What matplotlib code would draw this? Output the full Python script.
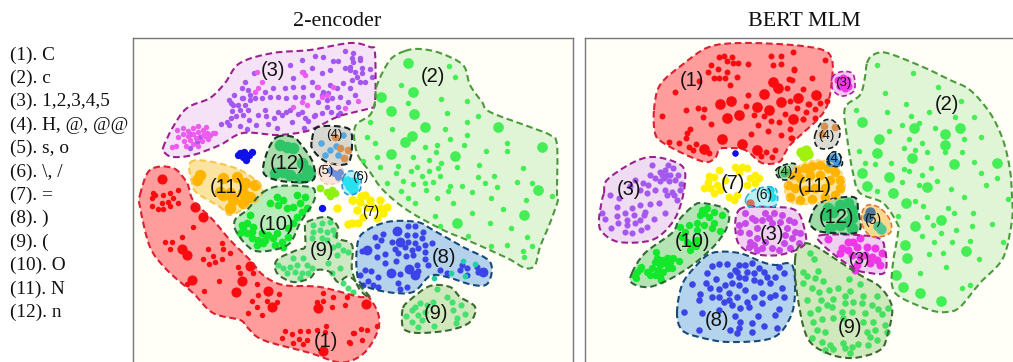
import matplotlib
matplotlib.use('Agg')
import matplotlib.pyplot as plt
import numpy as np
from matplotlib.path import Path
from matplotlib.patches import PathPatch

W, H = 1013, 362

legend_labels = ['(1). C', '(2). c', '(3). 1,2,3,4,5', '(4). H, @, @@', '(5). s, o', '(6). \\, /',
                 '(7). =', '(8). )', '(9). (', '(10). O', '(11). N', '(12). n']

# ---- 2-encoder outlines
L_out_3 = [(163,148),(173,127),(187,108),(210,98),(225,83),(240,63),(273,53),(310,50),(350,43),(370,47),(375,53),(375,102),(370,108),(355,112),(337,117),(317,127),(303,132),(277,135),(243,133),(220,145),(193,155),(173,157),(165,153)]
L_out_2 = [(405,51),(420,49),(440,53),(463,65),(470,85),(482,102),(490,112),(530,127),(550,135),(557,145),(557,193),(558,200),(550,223),(540,247),(535,265),(525,268),(507,258),(467,240),(443,230),(407,210),(383,190),(370,172),(357,153),(355,127),(370,115),(375,102),(377,85),(390,60)]
L_out_1 = [(140,195),(150,170),(173,168),(187,183),(193,200),(213,220),(230,240),(250,260),(263,275),(283,285),(320,287),(360,297),(367,295),(378,313),(378,330),(367,350),(353,360),(337,362),(310,353),(263,340),(247,327),(240,320),(213,313),(193,293),(167,270),(150,247),(140,207)]
L_out_11 = [(190,163),(207,161),(240,170),(262,187),(258,200),(247,207),(230,215),(220,207),(197,193),(192,183)]
L_out_12 = [(277,137),(293,137),(303,147),(313,163),(313,180),(290,182),(270,178),(263,170),(268,150)]
L_out_10 = [(262,193),(280,186),(310,187),(315,193),(313,203),(300,223),(290,243),(273,250),(253,250),(237,233),(235,220),(247,210)]
L_out_9a = [(307,222),(327,217),(338,227),(337,238),(352,245),(352,270),(360,290),(370,297),(350,277),(338,282),(330,272),(317,270),(310,278),(293,282),(277,273),(277,260),(297,250),(305,247),(305,230)]
L_out_9b = [(403,308),(410,300),(430,286),(450,287),(460,297),(475,307),(470,322),(450,330),(420,333),(405,330),(402,322)]
L_out_8 = [(357,247),(363,233),(387,222),(417,222),(433,230),(463,247),(490,262),(488,283),(473,285),(447,277),(430,276),(413,292),(387,292),(363,285),(357,273)]
L_out_4 = [(312,140),(318,127),(347,128),(352,140),(348,163),(327,162),(313,150)]
L_out_5 = [(318,170),(328,163),(340,166),(344,175),(337,183),(324,183)]
L_out_6 = [(343,178),(350,171),(360,175),(360,190),(350,195),(343,190)]

# ---- 2-encoder points
L_c2 = [(449,66),(455,77),(401,85),(408,103),(441,99),(467,101),(447,113),(478,116),(370,122),(467,122),(392,129),(445,129),(367,137),(467,135),(450,139),(375,143),(425,147),(437,145),(464,145),(507,143),(486,151),(507,151),(436,152),(413,157),(377,157),(429,160),(363,161),(441,163),(479,165),(380,167),(398,166),(417,167),(457,167),(411,171),(429,171),(438,168),(523,168),(396,173),(422,176),(440,176),(494,176),(478,177),(403,181),(387,183),(413,184),(425,183),(433,182),(485,183),(517,182),(532,183),(450,186),(462,186),(497,187),(426,190),(401,191),(448,191),(472,192),(552,196),(437,198),(408,198),(491,198),(415,203),(453,203),(526,200),(472,213),(503,209),(435,216),(440,226),(490,223),(511,228),(468,236),(527,237),(491,246),(507,245),(532,246),(523,251),(524,257)]
L_c2_big = [(408,63),(413,92),(381,97),(391,111),(414,114),(498,127),(425,127),(412,136),(405,142),(542,147),(391,154),(455,156),(538,190),(524,215),(457,223)]
L_m3 = [(177,130),(183,128),(188,131),(193,128),(198,126),(203,130),(206,127),(207,133),(210,135),(213,133),(178,137),(183,134),(188,136),(193,134),(198,132),(203,135),(208,139),(184,141),(190,140),(196,138),(202,141),(176,146),(186,146),(193,144),(198,146),(172,147),(205,136),(215,133),(262,82),(258,88),(255,92),(257,72),(302,72),(305,75),(302,102),(293,107),(307,105),(318,87),(327,95),(333,87),(322,97),(358,101),(345,108)]
L_p3 = [(190,148),(197,142),(191,134),(200,137),(221,124),(227,122),(231,118),(236,116),(243,115),(229,125),(240,126),(247,129),(256,125),(249,120),(258,115),(266,116),(268,124),(274,118),(277,128),(282,115),(286,112),(292,122),(298,114),(308,121),(304,128),(302,112),(314,116),(322,113),(331,112),(338,115),(229,100),(233,105),(232,111),(240,110),(245,105),(250,100),(242,98),(245,82),(242,88),(248,90),(254,73),(231,103),(234,95),(238,105),(243,98),(250,95),(255,98),(262,98),(270,97),(278,97),(286,98),(273,88),(265,92),(285,88),(293,78),(290,65),(302,60),(315,56),(323,57),(333,61),(338,61),(345,51),(353,53),(352,58),(360,58),(345,68),(350,67),(330,70),(322,73),(312,68),(303,72),(293,87),(303,87),(312,82),(317,87),(323,92),(330,85),(337,88),(343,83),(350,88),(357,77),(340,97),(348,102),(338,107),(327,107),(318,102),(312,95),(303,97),(295,97),(290,110),(278,112),(265,110),(248,110),(305,118),(315,115),(340,113),(327,100),(322,95),(328,93),(332,98),(353,62),(360,60),(355,72),(362,68),(370,69),(372,77),(360,82),(365,82),(352,80),(355,95),(350,70),(362,73)]
L_c1 = [(155,195),(152,198),(163,195),(170,193),(173,198),(168,202),(162,203),(178,203),(152,206),(158,209),(163,209),(170,206),(193,227),(182,237),(165,242),(172,242),(170,249),(222,243),(208,249),(223,249),(230,253),(213,256),(203,259),(222,259),(215,262),(209,264),(238,267),(253,273),(240,273),(187,284),(219,281),(257,284),(204,291),(279,294),(258,295),(323,293),(333,297),(347,297),(252,301),(267,301),(277,302),(257,307),(317,302),(323,301),(332,307),(345,305),(248,313),(262,315),(326,326),(325,332),(285,331),(292,334),(300,331),(308,331),(317,330),(282,338),(293,343),(299,339),(307,340),(303,344),(353,333),(349,342),(361,329),(367,330),(377,326),(354,333),(362,340),(350,343),(178,190),(153,193)]
L_c1_big = [(195,207),(203,217),(182,249),(187,255),(250,266),(192,280),(242,281),(236,292),(268,291),(272,307),(318,308),(323,351),(366,304),(162,179)]
L_n11 = [(200,175),(197,180),(223,178),(237,177),(245,183),(255,185),(230,193),(243,193),(223,195),(233,198),(233,200),(230,208),(243,203),(220,192),(250,197)]
L_n12 = [(287,147),(280,145),(293,148),(275,173),(283,172),(290,175),(307,170),(305,177),(300,178),(310,173),(302,163)]
L_o10 = [(277,197),(283,200),(270,203),(297,195),(305,197),(300,203),(307,208),(302,212),(287,208),(293,207),(278,205),(250,215),(242,225),(247,233),(240,233),(252,238),(258,240),(265,240),(273,238),(282,242),(288,237),(283,247),(268,235),(247,223),(253,227),(262,233),(263,243),(277,233),(293,223),(297,217),(288,228),(275,245),(257,245),(252,232),(243,228)]
L_par9 = [(313,225),(322,223),(330,222),(313,232),(320,230),(327,232),(333,230),(312,238),(322,238),(327,240),(335,235),(338,245),(343,250),(348,252),(333,247),(337,255),(328,263),(340,268),(332,273),(343,283),(348,288),(353,292),(303,258),(293,258),(297,265),(307,265),(290,267),(283,268),(287,273),(302,273),(295,272),(308,273),(278,265),(300,278),(312,268),(437,289),(412,310),(420,303),(427,305),(433,302),(447,297),(452,302),(461,305),(453,310),(465,314),(457,318),(456,323),(406,316),(412,322),(418,315),(422,320),(418,327),(434,326),(415,307),(425,312)]
L_par8 = [(408,226),(415,226),(423,232),(407,235),(415,235),(383,234),(375,237),(381,240),(392,242),(408,242),(415,243),(422,238),(432,243),(425,245),(377,246),(362,251),(395,249),(405,247),(412,250),(418,248),(425,252),(398,253),(406,256),(413,255),(385,254),(377,257),(425,259),(396,261),(385,263),(417,265),(418,271),(428,265),(365,270),(371,271),(400,274),(440,270),(447,273),(460,270),(467,268),(467,275),(477,267),(478,272),(360,275),(368,281),(363,285),(373,285),(378,277),(398,283),(378,287),(407,287),(400,289),(462,265)]
L_par8_big = [(397,231),(400,242),(367,250),(409,269),(391,273),(415,275),(483,272)]
L_teal = [(463,261),(475,264),(451,273),(465,276),(434,278)]
L_eq7 = [(365,195),(360,202),(370,200),(380,200),(387,207),(383,213),(357,210),(363,217),(377,218),(352,200),(352,223),(358,223),(380,208),(367,207),(337,208),(348,224),(353,200),(373,207),(361,196)]
L_lime = [(320,188),(327,192),(332,190),(330,196),(335,193)]
L_blue_blob = [(238,155),(243,157),(246,160),(249,155),(252,152),(244,152),(240,153),(322,208)]
L_h4_blue = [(321,143),(330,150),(336,146),(325,155),(338,155),(343,135)]
L_h4_orange = [(340,148),(344,158),(348,150),(335,137)]
L_s5 = [(334,173),(338,177),(330,170),(340,172)]
L_slash6 = [(350,186),(354,182),(347,181),(353,189)]

# ---- BERT MLM outlines
R_out_1 = [(654,110),(660,85),(682,65),(709,47),(742,43),(792,45),(823,50),(832,60),(832,80),(828,103),(820,117),(803,133),(790,145),(785,153),(779,162),(762,163),(745,150),(725,148),(719,150),(715,158),(705,162),(682,153),(662,142),(655,133)]
R_out_2 = [(867,63),(873,55),(887,53),(923,67),(950,80),(970,90),(990,113),(1003,140),(1010,170),(1012,197),(1012,220),(1003,258),(980,283),(960,307),(947,312),(930,310),(900,297),(892,285),(893,263),(898,233),(897,223),(883,203),(860,193),(853,173),(847,137),(845,108),(860,95),(865,77)]
R_out_3a = [(832,78),(840,72),(852,73),(855,83),(853,92),(842,96),(833,90)]
R_out_3b = [(604,193),(607,180),(632,163),(652,157),(675,162),(685,172),(682,200),(672,223),(652,240),(619,242),(602,232),(599,220),(602,200)]
R_out_3c = [(739,210),(769,207),(795,210),(804,227),(804,245),(779,255),(752,253),(737,240)]
R_out_3d = [(822,235),(875,237),(885,250),(885,272),(870,273),(853,268),(823,245)]
R_out_10 = [(632,273),(645,253),(672,233),(679,220),(692,207),(702,203),(727,210),(727,227),(715,245),(695,263),(672,278),(649,287),(632,283)]
R_out_8 = [(677,313),(682,285),(695,267),(712,253),(739,253),(762,262),(775,265),(792,265),(795,293),(790,318),(772,338),(729,342),(699,337),(682,330)]
R_out_9 = [(795,260),(800,245),(813,245),(837,260),(860,275),(880,287),(892,307),(888,333),(880,350),(853,358),(827,353),(807,337),(797,293)]
R_out_12 = [(810,220),(820,203),(853,197),(858,210),(858,232),(823,232),(812,227)]
R_out_5 = [(862,213),(868,205),(880,208),(890,220),(890,233),(873,237),(863,227)]
R_out_11 = [(788,178),(800,165),(818,160),(835,165),(844,178),(844,192),(832,200),(812,204),(792,203),(785,192)]
R_out_4a = [(815,135),(822,122),(832,120),(840,130),(836,145),(824,149),(816,145)]
R_out_4b = [(827,160),(833,152),(840,155),(842,165),(832,166)]
R_out_4c = [(776,170),(784,165),(795,164),(795,175),(786,180),(778,177)]
R_out_6 = [(746,198),(756,189),(775,188),(776,205),(760,207),(748,206)]

# ---- BERT MLM points
R_c1 = [(719,57),(724,56),(727,61),(732,57),(733,63),(738,63),(748,64),(718,69),(708,72),(727,72),(714,78),(719,78),(725,78),(737,77),(730,85),(711,65),(771,56),(781,56),(793,52),(773,65),(781,64),(794,69),(789,79),(787,88),(803,89),(699,81),(675,92),(748,95),(746,106),(790,101),(797,108),(809,104),(686,110),(698,108),(704,109),(662,116),(703,117),(754,115),(764,116),(785,114),(803,119),(771,121),(779,122),(758,125),(711,124),(690,129),(687,133),(790,129),(768,131),(751,134),(781,135),(791,138),(686,138),(669,142),(679,143),(689,147),(696,144),(693,150),(709,153),(766,152),(775,150),(761,156),(772,157),(825,60),(794,70),(812,78),(792,80),(808,104),(820,103),(827,101),(806,112),(815,109),(803,119),(815,118),(792,138)]
R_c1_big = [(773,82),(778,88),(764,94),(731,101),(720,104),(757,107),(781,102),(798,98),(769,110),(739,115),(727,118),(793,119),(722,139),(704,149),(742,144),(757,150),(816,95)]
R_c2 = [(877,65),(913,73),(885,93),(938,87),(906,104),(961,101),(856,110),(887,112),(929,112),(911,116),(955,117),(974,117),(919,123),(902,125),(935,128),(889,131),(981,137),(964,139),(909,139),(922,143),(904,148),(859,151),(915,150),(927,152),(945,152),(962,152),(865,163),(875,164),(891,163),(974,162),(931,168),(904,169),(909,171),(981,173),(922,175),(997,178),(937,181),(902,182),(919,185),(986,185),(951,189),(877,191),(964,197),(1008,199),(915,201),(923,206),(948,208),(954,213),(973,213),(898,216),(927,217),(933,225),(956,230),(972,226),(992,224),(941,233),(922,236),(970,241),(952,242),(934,242),(1003,242),(943,253),(929,254),(979,259),(946,267),(920,273),(962,288),(970,285)]
R_c2_big = [(862,122),(914,128),(960,128),(945,134),(879,139),(945,145),(877,153),(912,158),(954,164),(997,163),(862,173),(889,177),(867,186),(927,187),(893,193),(906,203),(941,220),(915,226),(905,245),(966,251),(907,258),(896,275),(903,287),(920,293),(941,301)]
R_p3 = [(660,172),(665,170),(670,175),(664,178),(669,181),(660,181),(673,168),(675,180),(655,178),(650,175),(648,185),(643,183),(635,180),(640,190),(630,186),(655,190),(665,190),(672,192),(680,190),(678,175),(681,184),(652,165),(668,165),(662,175),(667,175),(602,213),(605,219),(617,207),(617,216),(618,223),(611,228),(625,232),(632,233),(641,230),(627,225),(635,223),(627,220),(634,215),(640,220),(644,215),(632,208),(640,205),(625,213),(650,204),(654,219),(647,227),(665,213),(659,203),(647,193),(667,195),(677,200),(674,195),(619,198),(610,195),(645,212)]
R_m3c = [(750,242),(754,245),(749,247),(757,238),(740,232),(745,223),(755,220),(749,233),(757,228),(739,225),(745,213),(752,218),(765,213),(774,213),(782,215),(789,220),(794,222),(772,223),(780,222),(787,228),(795,232),(800,233),(792,238),(785,235),(762,220),(762,248),(772,248),(779,250),(790,248),(799,243),(765,242),(757,250),(784,243),(769,218)]
R_m3d = [(828,239),(848,242),(853,242),(860,238),(842,248),(848,250),(857,247),(867,247),(875,248),(882,253),(840,253),(872,257),(877,260),(870,263),(857,265),(855,270),(880,265),(860,257),(852,255),(865,255),(838,80),(843,83),(848,86),(843,78),(847,80),(840,86),(845,88)]
R_o10 = [(655,262),(660,265),(665,263),(658,270),(663,272),(668,268),(652,268),(670,262),(673,258),(650,275),(660,277),(667,258),(657,258),(647,272),(662,260),(655,275),(672,268),(636,278),(637,272),(641,267),(656,252),(668,258),(679,261),(640,269),(635,276),(661,280),(702,210),(700,215),(707,208),(709,217),(722,215),(714,212),(697,223),(704,225),(714,223),(689,225),(697,230),(712,228),(720,231),(680,227),(685,232),(692,245),(687,242),(697,240),(682,237),(690,250),(704,213),(696,246)]
R_par8 = [(719,264),(727,264),(712,266),(707,273),(716,279),(692,284),(706,283),(710,288),(719,289),(700,294),(699,300),(712,297),(719,297),(729,293),(729,300),(724,302),(737,272),(730,275),(739,265),(745,265),(752,263),(759,268),(764,272),(747,272),(754,273),(739,277),(745,278),(754,280),(760,282),(767,277),(775,277),(779,267),(784,273),(770,283),(782,288),(732,283),(739,285),(745,290),(754,297),(737,297),(762,303),(775,295),(784,297),(770,297),(732,305),(719,310),(702,313),(684,312),(740,308),(749,307),(779,309),(735,316),(758,316),(775,315),(740,322),(752,323),(739,328),(730,330),(699,330),(752,332),(764,326),(777,328),(737,333),(747,302),(725,285),(762,293),(735,270)]
R_par9 = [(810,253),(814,259),(803,272),(818,271),(807,276),(815,278),(803,283),(823,281),(849,279),(860,284),(812,288),(829,290),(838,288),(819,292),(850,291),(807,300),(821,300),(833,299),(845,296),(863,296),(877,296),(853,302),(827,305),(832,307),(845,303),(862,303),(872,305),(888,308),(818,309),(842,312),(852,312),(878,309),(810,313),(833,318),(822,319),(843,318),(865,313),(882,314),(873,322),(863,322),(885,325),(813,322),(825,332),(817,330),(867,332),(875,330),(887,332),(812,338),(822,342),(843,343),(830,345),(852,347),(858,344),(868,345),(877,340),(825,350),(833,349),(845,348),(850,353),(870,337)]
R_eq7 = [(719,170),(714,177),(708,182),(704,188),(710,188),(717,185),(720,190),(714,193),(735,167),(742,167),(747,168),(739,172),(755,175),(750,178),(759,178),(755,183),(747,185),(729,197),(734,200),(737,195),(725,180),(709,176)]
R_n11 = [(797,170),(805,168),(812,166),(820,165),(828,168),(835,172),(840,180),(840,188),(835,195),(825,197),(812,199),(800,200),(790,197),(788,185),(792,175),(800,178),(810,175),(820,175),(830,180),(825,188),(815,188),(805,190),(795,188)]
R_n12 = [(828,208),(833,212),(840,205),(848,203),(852,210),(848,222),(840,225),(830,228),(852,228),(825,215),(852,218)]
R_lime = [(801,152),(806,150),(804,156),(808,154)]
R_blue_dot = [(735,153),(735,153)]
R_h4_orange = [(824,126),(835,127),(822,134)]
R_h4_blue = [(833,158),(836,163),(830,162)]
R_h4_green = [(784,173),(787,172)]
R_s5_grey = [(870,212),(868,217)]
R_s5_teal = [(878,226),(881,229)]
R_slash_red = [(750,203)]
R_slash_cyan = [(772,197),(770,190)]

# ---- region labels
L_labels = [('(3)',273,70,14.5),('(2)',433,76,14.5),('(4)',334,135,9.5),('(12)',287,163,14.5),('(5)',325,171,9.5),('(6)',360,177,9.5),('(11)',227,187,14.5),('(7)',371,212,10),('(10)',276,224,14.5),('(9)',322,250,14.5),('(8)',444,257,14.5),('(9)',436,313,14.5),('(1)',326,341,14.5)]
R_labels = [('(1)',692,81,14.5),('(3)',843,83,9.5),('(2)',947,104,14.5),('(4)',826,136,9.5),('(4)',834,159,9.5),('(4)',784,172,9.5),('(7)',733,183,14.5),('(11)',815,186,14.5),('(3)',629,189,14.5),('(6)',764,195,10),('(12)',836,217,14.5),('(5)',873,220,10),('(3)',772,234,14.5),('(10)',692,241,14.5),('(3)',859,259,12),('(8)',717,320,14.5),('(9)',850,327,14.5)]


def smooth(outline):
    # closed catmull-rom through the hand-read outline points
    p = np.array(outline, dtype=float)
    n = len(p)
    verts = [p[0]]
    codes = [Path.MOVETO]
    for i in range(n):
        p0, p1, p2, p3 = p[i-1], p[i], p[(i+1) % n], p[(i+2) % n]
        verts += [p1 + (p2-p0)/6, p2 - (p3-p1)/6, p2]
        codes += [Path.CURVE4]*3
    return Path(verts, codes)


def region(ax, outline, fill, edge, lw=1.5):
    path = smooth(outline)
    ax.add_patch(PathPatch(path, facecolor=fill, edgecolor='none', zorder=1))
    ax.add_patch(PathPatch(path, facecolor='none', edgecolor=edge, lw=lw, linestyle=(0, (3.2, 1.8)), zorder=4))


def dots(ax, pts, color, s=11):
    xs = [q[0] for q in pts]
    ys = [q[1] for q in pts]
    ax.scatter(xs, ys, s=s*1.4, c=color, linewidths=0, zorder=3)


def make_axes(x0, x1, y0, y1):
    ax = fig.add_axes([x0/W, 1-y1/H, (x1-x0)/W, (y1-y0)/H])
    ax.set_xlim(x0, x1)
    ax.set_ylim(y1, y0)
    ax.set_xticks([])
    ax.set_yticks([])
    ax.set_facecolor('#fffff8')
    for s in ax.spines.values():
        s.set_color('#777777')
        s.set_linewidth(1.0)
    return ax


fig = plt.figure(figsize=(W/100, H/100), dpi=100, facecolor='white')

for i, lab in enumerate(legend_labels):
    fig.text(10/W, 1-(55+23.4*i)/H, lab, family='Liberation Serif', fontsize=13.9, va='center', color='#111111')

fig.text(337/W, 1-21/H, '2-encoder', family='Liberation Serif', fontsize=15.8, ha='center', va='center', color='#111111')
fig.text(804/W, 1-21/H, 'BERT MLM', family='Liberation Serif', fontsize=15.8, ha='center', va='center', color='#111111')

# left panel
ax1 = make_axes(133, 573, 38, 364)
region(ax1, L_out_3, '#f6e2f6', '#9c2090')
region(ax1, L_out_2, '#e0f4d6', '#4c9a3c')
region(ax1, L_out_1, '#ff9c9c', '#dc2030')
region(ax1, L_out_11, '#fde3a0', '#f4c850')
region(ax1, L_out_12, '#a8dca8', '#16342a')
region(ax1, L_out_10, '#b8ecb8', '#2f6a3a')
region(ax1, L_out_9a, '#cfe8c4', '#3a6a30')
region(ax1, L_out_9b, '#cfe8bc', '#3a6a30')
region(ax1, L_out_8, '#b4d2ec', '#164a78')
region(ax1, L_out_4, '#d8d8d0', '#16242a')
region(ax1, L_out_5, '#f8e4d8', '#f0c8b0', 1.0)
region(ax1, L_out_6, '#b8f0f4', '#3090d0', 1.2)
dots(ax1, L_c2, '#44ee55')
dots(ax1, L_c2_big, '#44ee55', 42)
dots(ax1, L_p3, '#a458f0')
dots(ax1, L_m3, '#ee5cee')
dots(ax1, L_c1, '#f80c10')
dots(ax1, L_c1_big, '#f80c10', 38)
dots(ax1, L_n11, '#ffb400', 48)
dots(ax1, L_n12, '#30c468', 50)
dots(ax1, L_o10, '#14e82c', 22)
dots(ax1, L_par9, '#44e070', 14)
dots(ax1, L_par8, '#3c44e8', 14)
dots(ax1, L_par8_big, '#3c44e8', 36)
dots(ax1, L_teal, '#20d0a0', 12)
dots(ax1, L_eq7, '#fff000', 26)
dots(ax1, L_lime, '#90f010', 22)
dots(ax1, L_blue_blob, '#1010e8', 20)
dots(ax1, L_h4_blue, '#58a8e0', 16)
dots(ax1, L_h4_orange, '#d89050', 22)
dots(ax1, L_s5, '#7090d8', 18)
dots(ax1, L_slash6, '#28e0ee', 40)
for txt, x, y, size in L_labels:
    ax1.text(x, y, txt, family='Liberation Sans', fontsize=size, ha='center', va='center', color='#111111', zorder=5)

# right panel
ax2 = make_axes(585, 1020, 38, 364)
region(ax2, R_out_1, '#ff9c9c', '#dc2030')
region(ax2, R_out_2, '#e0f4d6', '#4c9a3c')
region(ax2, R_out_3a, '#f6c8f0', '#b020a8', 1.2)
region(ax2, R_out_3b, '#f0dcf2', '#9c2090')
region(ax2, R_out_3c, '#f0d0f0', '#9c2090')
region(ax2, R_out_3d, '#f0d0f0', '#9c2090')
region(ax2, R_out_10, '#b4e4b4', '#2f6a3a')
region(ax2, R_out_8, '#b4d4ee', '#164a78')
region(ax2, R_out_9, '#cfe8bc', '#3a6a30')
region(ax2, R_out_12, '#a0dca8', '#16342a')
region(ax2, R_out_5, '#fbd890', '#e07830', 1.2)
region(ax2, R_out_11, '#fde3a0', '#f8d070', 1.0)
region(ax2, R_out_4a, '#dcdcd4', '#16242a', 1.2)
region(ax2, R_out_4b, '#a8d4f0', '#16242a', 1.2)
region(ax2, R_out_4c, '#a8e0a8', '#16242a', 1.2)
region(ax2, R_out_6, '#b8f0f4', '#28b8e0', 1.2)
dots(ax2, R_c1, '#f80c10', 13)
dots(ax2, R_c1_big, '#f80c10', 42)
dots(ax2, R_c2, '#44ee55')
dots(ax2, R_c2_big, '#44ee55', 42)
dots(ax2, R_p3, '#a458f0', 14)
dots(ax2, R_m3c, '#c848e8', 18)
dots(ax2, R_m3d, '#ee38e8', 24)
dots(ax2, R_o10, '#14e82c', 20)
dots(ax2, R_par8, '#3c44e8', 16)
dots(ax2, R_par9, '#44e060', 16)
dots(ax2, R_eq7, '#fff000', 22)
dots(ax2, R_n11, '#ffb400', 34)
dots(ax2, R_n12, '#30c468', 50)
dots(ax2, R_lime, '#a0f010', 40)
dots(ax2, R_blue_dot, '#1010e8', 14)
dots(ax2, R_h4_orange, '#d89050', 22)
dots(ax2, R_h4_blue, '#3c98e0', 28)
dots(ax2, R_h4_green, '#44c060', 24)
dots(ax2, R_s5_grey, '#507898', 40)
dots(ax2, R_s5_teal, '#50c890', 40)
dots(ax2, R_slash_red, '#d07060', 26)
dots(ax2, R_slash_cyan, '#28d8f0', 26)
for txt, x, y, size in R_labels:
    ax2.text(x, y, txt, family='Liberation Sans', fontsize=size, ha='center', va='center', color='#111111', zorder=5)

fig.savefig('out.png', dpi=100)
